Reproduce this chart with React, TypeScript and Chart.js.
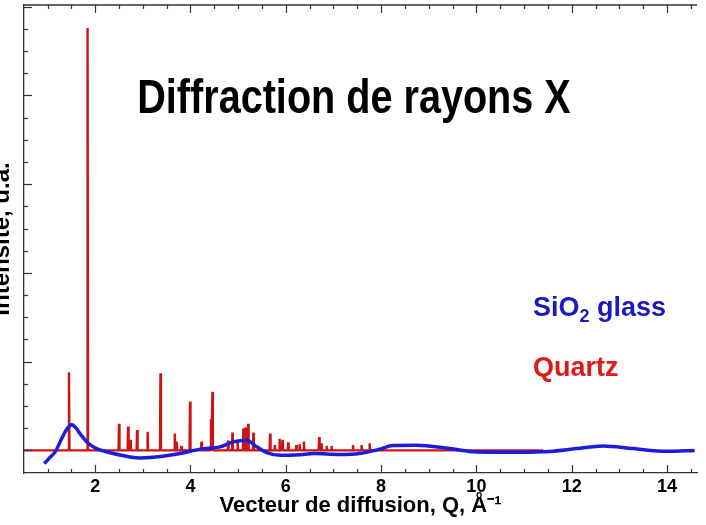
import React, { useEffect, useRef } from 'react';
import { Chart, registerables } from 'chart.js';

Chart.register(...registerables);

// ---- data ----
const quartzQ = [1.45, 1.84, 2.50, 2.69, 2.74, 2.88, 3.10, 3.37, 3.67, 3.71, 3.81, 3.99, 4.23, 4.43, 4.46, 4.79, 4.88, 4.99, 5.11, 5.16, 5.21, 5.32, 5.67, 5.77, 5.87, 5.93, 6.05, 6.22, 6.29, 6.38, 6.70, 6.75, 6.86, 6.96, 7.41, 7.59, 7.76];
const quartzI = [0.88, 4.76, 0.30, 0.27, 0.12, 0.23, 0.21, 0.87, 0.19, 0.10, 0.05, 0.55, 0.10, 0.35, 0.66, 0.11, 0.20, 0.12, 0.25, 0.26, 0.30, 0.20, 0.19, 0.06, 0.13, 0.12, 0.09, 0.06, 0.07, 0.10, 0.15, 0.08, 0.05, 0.05, 0.06, 0.06, 0.08];
const quartzRange = [0.5, 11.4];

const glassQ = [0.93, 1.05, 1.16, 1.33, 1.42, 1.51, 1.60, 1.68, 1.86, 2.03, 2.20, 2.38, 2.73, 2.95, 3.42, 3.78, 4.20, 4.62, 4.90, 5.18, 5.39, 5.60, 5.88, 6.30, 6.58, 7.13, 7.55, 7.97, 8.25, 8.74, 9.44, 10.0, 10.84, 11.54, 12.10, 12.66, 13.29, 13.99, 14.58];
const glassI = [-0.15, -0.08, -0.017, 0.17, 0.25, 0.29, 0.25, 0.19, 0.077, 0.02, -0.01, -0.036, -0.074, -0.085, -0.066, -0.036, 0.014, 0.04, 0.096, 0.115, 0.04, -0.025, -0.055, -0.048, -0.036, -0.047, -0.036, 0.014, 0.055, 0.058, 0.02, -0.017, -0.02, -0.012, 0.02, 0.05, 0.02, -0.01, 0.0];

const xRange = [0.506, 14.63];
const yRange = [-0.255, 5.02];
const xTickStep = 2;
const xMinorTicks = [1, 1.5, 2, 2.5, 3, 3.5, 4, 4.5, 5, 5.5, 6, 6.5, 7, 7.5, 8, 8.5, 9, 9.5, 10, 10.5, 11, 11.5, 12, 12.5, 13, 13.5, 14, 14.5];
const xMajorTicks = [2, 4, 6, 8, 10, 12, 14];
const yMinorTicks = [0.25, 0.5, 0.75, 1.25, 1.5, 1.75, 2.25, 2.5, 2.75, 3.25, 3.5, 3.75, 4.25, 4.5, 4.75];
const yMajorTicks = [0, 1, 2, 3, 4, 5];

const TITLE = 'Diffraction de rayons X';
const X_TITLE = 'Vecteur de diffusion, Q, Å⁻¹';
const Y_TITLE = 'Intensité, u.a.';

const RED = '#cc1414';
const BLUE = '#1c1cdc';
const SHIFT = 20; // canvas is shifted left so the y title is partly cut off

const decorPlugin = {
  id: 'decor',
  afterDraw(chart: any) {
    const { ctx, chartArea: a, scales } = chart;
    const x = scales.x;
    const y = scales.y;
    ctx.save();
    ctx.strokeStyle = '#333';
    ctx.lineWidth = 1.3;
    ctx.beginPath();
    ctx.moveTo(a.left, a.top);
    ctx.lineTo(a.right, a.top);
    ctx.stroke();
    ctx.lineWidth = 1.2;
    const seg = (x1: number, y1: number, x2: number, y2: number) => {
      ctx.beginPath();
      ctx.moveTo(x1, y1);
      ctx.lineTo(x2, y2);
      ctx.stroke();
    };
    xMinorTicks.forEach((v) => {
      const px = Math.round(x.getPixelForValue(v)) + 0.5;
      const len = xMajorTicks.includes(v) ? 8 : 4;
      seg(px, a.bottom, px, a.bottom - len);
      seg(px, a.top, px, a.top + len);
    });
    yMinorTicks.forEach((v) => {
      const py = Math.round(y.getPixelForValue(v)) + 0.5;
      seg(a.left, py, a.left + 4, py);
    });
    yMajorTicks.forEach((v) => {
      const py = Math.round(y.getPixelForValue(v)) + 0.5;
      seg(a.left, py, a.left + 8, py);
    });

    // title inside plot (condensed bold)
    ctx.save();
    ctx.fillStyle = '#000';
    ctx.textAlign = 'center';
    ctx.textBaseline = 'alphabetic';
    ctx.font = 'bold 48px "Liberation Sans", Arial, sans-serif';
    ctx.translate(354 + SHIFT, 113);
    ctx.scale(0.825, 1);
    ctx.fillText(TITLE, 0, 0);
    ctx.restore();

    // series labels
    ctx.textAlign = 'left';
    ctx.textBaseline = 'alphabetic';
    const lx = 533 + SHIFT;
    ctx.font = 'bold 27px "Liberation Sans", Arial, sans-serif';
    ctx.fillStyle = '#1a1ac0';
    ctx.fillText('SiO', lx, 316);
    let w = ctx.measureText('SiO').width;
    ctx.font = 'bold 18px "Liberation Sans", Arial, sans-serif';
    ctx.fillText('2', lx + w, 322);
    w += ctx.measureText('2').width;
    ctx.font = 'bold 27px "Liberation Sans", Arial, sans-serif';
    ctx.fillText(' glass', lx + w, 316);

    ctx.fillStyle = '#e01818';
    ctx.fillText('Quartz', lx, 376);
    ctx.restore();
  },
};

export default function App() {
  const ref = useRef<HTMLCanvasElement | null>(null);

  useEffect(() => {
    if (!ref.current) return;
    const quartzData: { x: number; y: number }[] = [{ x: quartzRange[0], y: 0 }];
    quartzQ.forEach((q, i) => {
      quartzData.push({ x: q - 0.01, y: 0 }, { x: q, y: quartzI[i] }, { x: q + 0.01, y: 0 });
    });
    quartzData.push({ x: quartzRange[1], y: 0 });
    const glassData = glassQ.map((q, i) => ({ x: q, y: glassI[i] }));

    const chart = new Chart(ref.current, {
      type: 'line',
      data: {
        datasets: [
          {
            label: 'SiO2 glass',
            data: glassData,
            borderColor: BLUE,
            borderWidth: 3.5,
            pointRadius: 0,
            cubicInterpolationMode: 'monotone',
            order: 0,
          },
          {
            label: 'Quartz',
            data: quartzData,
            borderColor: RED,
            borderWidth: 2.4,
            pointRadius: 0,
            tension: 0,
            borderJoinStyle: 'bevel',
            order: 1,
          },
        ],
      },
      options: {
        responsive: false,
        animation: false,
        parsing: false,
        layout: { padding: { left: 0, right: 9, top: 5, bottom: 0 } },
        plugins: { legend: { display: false }, tooltip: { enabled: false }, title: { display: false } },
        scales: {
          x: {
            type: 'linear',
            min: xRange[0],
            max: xRange[1],
            grid: { display: false, drawTicks: false },
            border: { display: true, color: '#333', width: 1.3 },
            ticks: {
              stepSize: xTickStep,
              includeBounds: false,
              padding: 5,
              color: '#000',
              font: { family: '"Liberation Sans", Arial, sans-serif', size: 18, weight: 'bold', lineHeight: 1 },
            },
            title: {
              display: true,
              text: X_TITLE,
              color: '#000',
              font: { family: '"Liberation Sans", Arial, sans-serif', size: 22, weight: 'bold', lineHeight: 1 },
              padding: { top: -6, bottom: 8 },
            },
          },
          y: {
            type: 'linear',
            min: yRange[0],
            max: yRange[1],
            grid: { display: false, drawTicks: false },
            border: { display: true, color: '#333', width: 1.3 },
            ticks: { display: false },
            title: {
              display: true,
              text: Y_TITLE,
              color: '#000',
              font: { family: '"Liberation Sans", Arial, sans-serif', size: 24, weight: 'bold', lineHeight: 1.2 },
              padding: { top: 8, bottom: 7.2 },
            },
          },
        },
      },
      plugins: [decorPlugin],
    });
    return () => chart.destroy();
  }, []);

  return (
    <div style={{ position: 'absolute', left: -SHIFT, top: 0, width: 706 + SHIFT, height: 525, overflow: 'hidden', background: '#fff' }}>
      <canvas ref={ref} width={706 + SHIFT} height={525} style={{ display: 'block' }} />
    </div>
  );
}
